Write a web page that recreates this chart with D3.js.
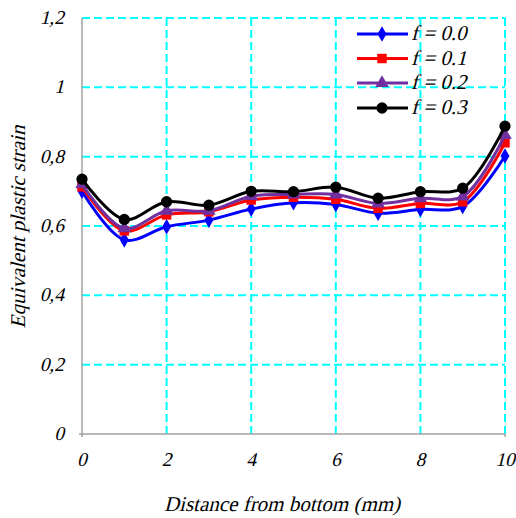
<!DOCTYPE html>
<html><head><meta charset="utf-8">
<script src="https://cdn.jsdelivr.net/npm/d3@7"></script>
<style>body{margin:0;background:#fff}svg{display:block}
svg text{font-family:"Times New Roman","Liberation Serif",serif;fill:#000;font-size:19.5px;font-style:normal}
text.ti{font-size:21px}
text.lg{font-size:21px}</style>
</head><body><svg id="c" width="516" height="518"></svg>
<script>
const xValues = [0,1,2,3,4,5,6,7,8,9,10];
const seriesNames = ["f = 0.0","f = 0.1","f = 0.2","f = 0.3"];
const f00 = [0.70,0.56,0.598,0.617,0.649,0.667,0.662,0.637,0.648,0.656,0.802];
const f01 = [0.713,0.586,0.632,0.641,0.675,0.683,0.677,0.651,0.665,0.67,0.840];
const f02 = [0.72,0.593,0.644,0.644,0.686,0.691,0.691,0.665,0.68,0.685,0.862];
const f03 = [0.735,0.619,0.67,0.66,0.70,0.699,0.712,0.68,0.699,0.709,0.888];
const yTicks = [0,0.2,0.4,0.6,0.8,1,1.2];
const xTicks = [0,2,4,6,8,10];
const colors = ["#0000ff","#ff0000","#7030a0","#000000"];
const markers = [d3.symbolDiamond, d3.symbolSquare, d3.symbolTriangle, d3.symbolCircle];
const markerSizes = [70, 90, 80, 100];
const SK = "skewX(-14)";

const svg = d3.select("#c");
const x = d3.scaleLinear().domain([0,10]).range([82,505]);
const y = d3.scaleLinear().domain([0,1.2]).range([434,18]);

const g = svg.append("g");
g.selectAll(".hg").data(yTicks.filter(d=>d>0)).enter().append("line")
  .attr("x1",x(0)).attr("x2",x(10)).attr("y1",d=>y(d)).attr("y2",d=>y(d))
  .attr("stroke","#00ffff").attr("stroke-width",2).attr("stroke-dasharray","8,4");
g.selectAll(".vg").data(xTicks.filter(d=>d>0)).enter().append("line")
  .attr("x1",d=>x(d)).attr("x2",d=>x(d)).attr("y1",y(0)).attr("y2",y(1.2))
  .attr("stroke","#00ffff").attr("stroke-width",2).attr("stroke-dasharray","8,4");
svg.append("line").attr("x1",x(0)).attr("x2",x(0)).attr("y1",y(1.2)).attr("y2",y(0)+3).attr("stroke","#a0a0a0").attr("stroke-width",1.5);
svg.append("line").attr("x1",x(0)-3).attr("x2",x(10)).attr("y1",y(0)).attr("y2",y(0)).attr("stroke","#a0a0a0").attr("stroke-width",1.5);
svg.append("line").attr("x1",x(10)).attr("x2",x(10)).attr("y1",y(0)).attr("y2",y(0)+3).attr("stroke","#a0a0a0").attr("stroke-width",1.5);

svg.selectAll(".yl").data(yTicks).enter().append("text").attr("class","tk")
  .attr("transform",d=>`translate(64,${y(d)+6}) ${SK}`).attr("text-anchor","end")
  .text(d=>String(d).replace(".",","));
svg.selectAll(".xl").data(xTicks).enter().append("text").attr("class","tk")
  .attr("transform",d=>`translate(${x(d)},466) ${SK}`).attr("text-anchor","middle")
  .text(d=>d);
svg.append("text").attr("class","ti").attr("transform",`translate(282,511) ${SK}`).attr("text-anchor","middle")
  .text("Distance from bottom (mm)");
svg.append("text").attr("class","ti").attr("transform",`translate(25,227) rotate(-90) ${SK}`).attr("text-anchor","middle")
  .text("Equivalent plastic strain");

const data = [f00,f01,f02,f03];
const line = d3.line().x((d,i)=>x(xValues[i])).y(d=>y(d)).curve(d3.curveCatmullRom.alpha(0.5));
data.forEach((s,k)=>{
  svg.append("path").attr("d",line(s)).attr("fill","none").attr("stroke",colors[k]).attr("stroke-width",3);
  svg.selectAll(".m"+k).data(s).enter().append("path")
    .attr("d",d3.symbol().type(markers[k]).size(markerSizes[k]))
    .attr("transform",(d,i)=>`translate(${x(xValues[i])},${y(d)})`)
    .attr("fill",colors[k]);
});

const ly = [34,58.5,83,108];
seriesNames.forEach((n,k)=>{
  svg.append("line").attr("x1",357).attr("x2",408).attr("y1",ly[k]).attr("y2",ly[k]).attr("stroke",colors[k]).attr("stroke-width",3);
  svg.append("path").attr("d",d3.symbol().type(markers[k]).size(markerSizes[k]))
    .attr("transform",`translate(382,${ly[k]})`).attr("fill",colors[k]);
  svg.append("text").attr("class","lg").attr("transform",`translate(411,${ly[k]+6}) ${SK}`).text(n);
});
</script></body></html>
